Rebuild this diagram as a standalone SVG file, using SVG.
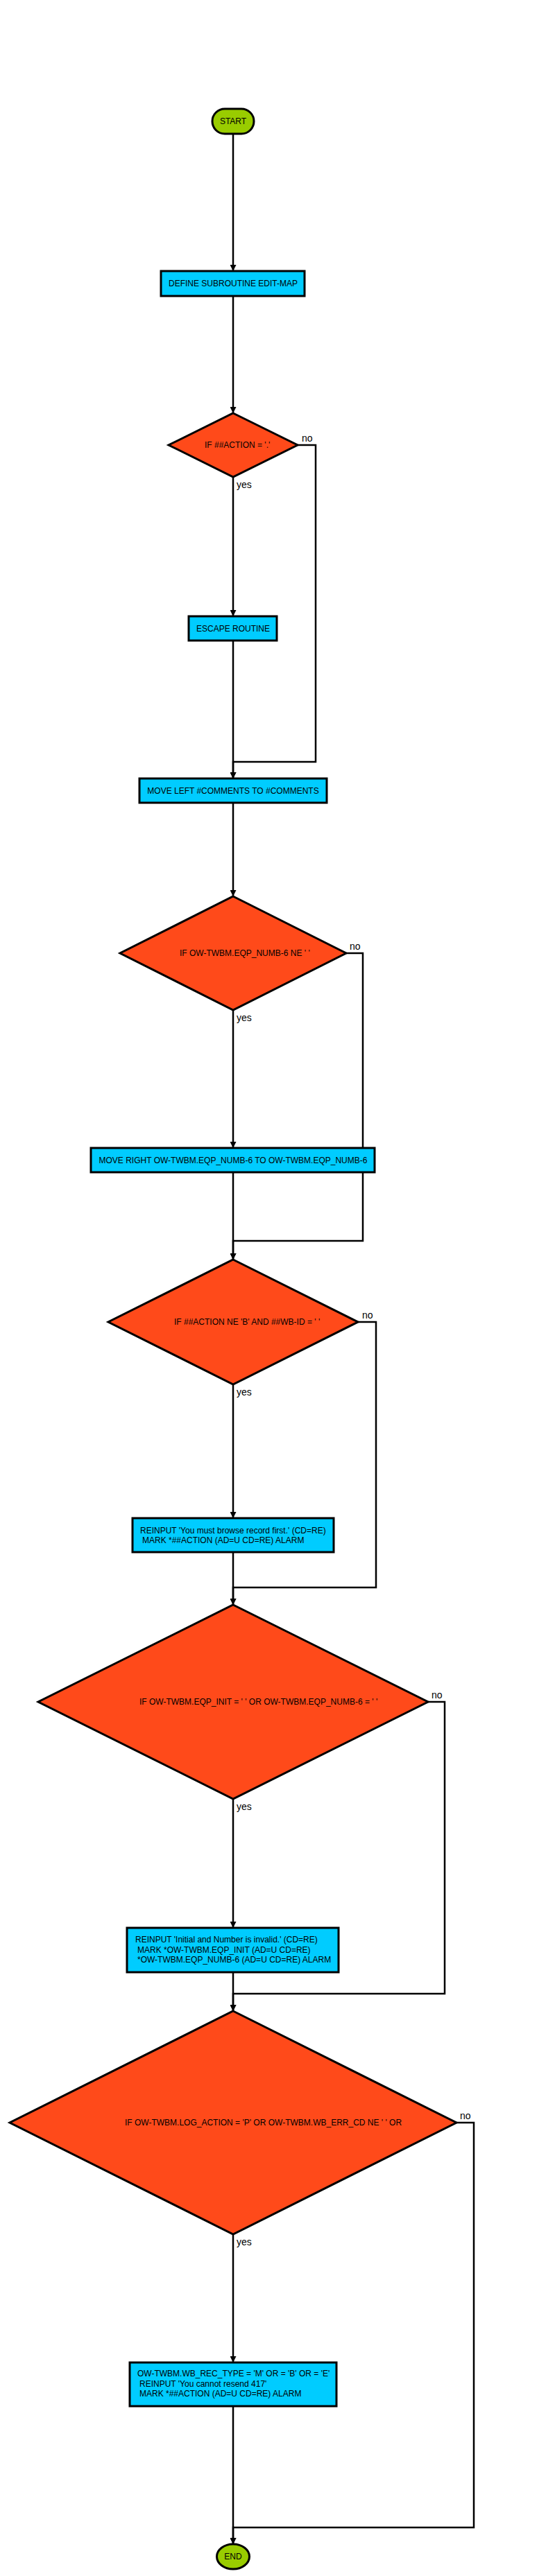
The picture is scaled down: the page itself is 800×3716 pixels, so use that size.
<svg xmlns="http://www.w3.org/2000/svg" width="800" height="3716" viewBox="0 0 800 3716">
<style>
text{font-family:"Liberation Sans",Arial,sans-serif;font-size:12px;fill:#000}
.term{fill:#99cc00;stroke:#000;stroke-width:3}
.proc{fill:#00ccff;stroke:#000;stroke-width:3}
.dec{fill:#ff4a1a;stroke:#000;stroke-width:3}
.c{text-anchor:middle}
.lbl{font-size:14px}
.edge{fill:none;stroke:#000;stroke-width:2.5}
</style>
<defs>
<marker id="ah" viewBox="0 0 10 10" refX="10" refY="5" markerWidth="9" markerHeight="9" markerUnits="userSpaceOnUse" orient="auto">
<path d="M0,0 L10,5 L0,10 z" fill="#000"/>
</marker>
</defs>
<rect width="800" height="3716" fill="#fff"/>
<g id="connectors">
<path class="edge" d="M336,193 V391" marker-end="url(#ah)"/>
<path class="edge" d="M336,427 V596" marker-end="url(#ah)"/>
<path class="edge" d="M336,688 V889" marker-end="url(#ah)"/>
<text class="lbl" x="341" y="704">yes</text>
<path class="edge" d="M429,642 H455 V1099 H336 V1123" marker-end="url(#ah)"/>
<text class="lbl" x="435" y="637">no</text>
<path class="edge" d="M336,924 V1123" marker-end="url(#ah)"/>
<path class="edge" d="M336,1158 V1293" marker-end="url(#ah)"/>
<path class="edge" d="M336,1457 V1656" marker-end="url(#ah)"/>
<text class="lbl" x="341" y="1473">yes</text>
<path class="edge" d="M499,1375 H523 V1790 H336 V1817" marker-end="url(#ah)"/>
<text class="lbl" x="504" y="1370">no</text>
<path class="edge" d="M336,1691 V1817" marker-end="url(#ah)"/>
<path class="edge" d="M336,1997 V2190" marker-end="url(#ah)"/>
<text class="lbl" x="341" y="2013">yes</text>
<path class="edge" d="M516,1907 H542 V2290 H336 V2315" marker-end="url(#ah)"/>
<text class="lbl" x="522" y="1902">no</text>
<path class="edge" d="M336,2239 V2315" marker-end="url(#ah)"/>
<path class="edge" d="M336,2595 V2781" marker-end="url(#ah)"/>
<text class="lbl" x="341" y="2611">yes</text>
<path class="edge" d="M617,2455 H641 V2876 H336 V2901" marker-end="url(#ah)"/>
<text class="lbl" x="622" y="2450">no</text>
<path class="edge" d="M336,2845 V2901" marker-end="url(#ah)"/>
<path class="edge" d="M336,3223 V3408" marker-end="url(#ah)"/>
<text class="lbl" x="341" y="3239">yes</text>
<path class="edge" d="M658,3062 H683 V3646 H336 V3670" marker-end="url(#ah)"/>
<text class="lbl" x="663" y="3057">no</text>
<path class="edge" d="M336,3471 V3670" marker-end="url(#ah)"/>
</g>
<g id="start">
<rect class="term" x="306" y="157" width="60" height="36" rx="18" ry="18"/>
<text class="c" x="336" y="179">START</text>
</g>
<g id="define">
<rect class="proc" x="232" y="391" width="207" height="36"/>
<text class="c" x="336" y="413">DEFINE SUBROUTINE EDIT-MAP</text>
</g>
<g id="d1">
<polygon class="dec" points="336,596 429,642 336,688 243,642"/>
<text x="295" y="646">IF ##ACTION = '.'</text>
</g>
<g id="escape">
<rect class="proc" x="272" y="889" width="127" height="35"/>
<text class="c" x="336" y="911">ESCAPE ROUTINE</text>
</g>
<g id="moveleft">
<rect class="proc" x="201" y="1123" width="270" height="35"/>
<text class="c" x="336" y="1145">MOVE LEFT #COMMENTS TO #COMMENTS</text>
</g>
<g id="d2">
<polygon class="dec" points="336,1293 499,1375 336,1457 173,1375"/>
<text x="259" y="1379">IF OW-TWBM.EQP_NUMB-6 NE ' '</text>
</g>
<g id="moveright">
<rect class="proc" x="131" y="1656" width="409" height="35"/>
<text class="c" x="336" y="1678">MOVE RIGHT OW-TWBM.EQP_NUMB-6 TO OW-TWBM.EQP_NUMB-6</text>
</g>
<g id="d3">
<polygon class="dec" points="336,1817 516,1907 336,1997 156,1907"/>
<text x="251" y="1911">IF ##ACTION NE 'B' AND ##WB-ID = ' '</text>
</g>
<g id="reinput1">
<rect class="proc" x="191" y="2190" width="290" height="49"/>
<text x="202" y="2212">REINPUT 'You must browse record first.' (CD=RE)</text>
<text x="205" y="2226">MARK *##ACTION (AD=U CD=RE) ALARM</text>
</g>
<g id="d4">
<polygon class="dec" points="336,2315 617,2455 336,2595 55,2455"/>
<text x="201" y="2459">IF OW-TWBM.EQP_INIT = ' ' OR OW-TWBM.EQP_NUMB-6 = ' '</text>
</g>
<g id="reinput2">
<rect class="proc" x="183" y="2781" width="305" height="64"/>
<text x="195" y="2802">REINPUT 'Initial and Number is invalid.' (CD=RE)</text>
<text x="198" y="2817">MARK *OW-TWBM.EQP_INIT (AD=U CD=RE)</text>
<text x="198" y="2831">*OW-TWBM.EQP_NUMB-6 (AD=U CD=RE) ALARM</text>
</g>
<g id="d5">
<polygon class="dec" points="336,2901 658,3062 336,3223 14,3062"/>
<text x="180" y="3066">IF OW-TWBM.LOG_ACTION = 'P' OR OW-TWBM.WB_ERR_CD NE ' ' OR</text>
</g>
<g id="box3">
<rect class="proc" x="187" y="3408" width="298" height="63"/>
<text x="198" y="3428">OW-TWBM.WB_REC_TYPE = 'M' OR = 'B' OR = 'E'</text>
<text x="201" y="3443">REINPUT 'You cannot resend 417'</text>
<text x="201" y="3457">MARK *##ACTION (AD=U CD=RE) ALARM</text>
</g>
<g id="end">
<ellipse class="term" cx="336" cy="3688" rx="23.5" ry="18"/>
<text class="c" x="336" y="3692">END</text>
</g>
</svg>
